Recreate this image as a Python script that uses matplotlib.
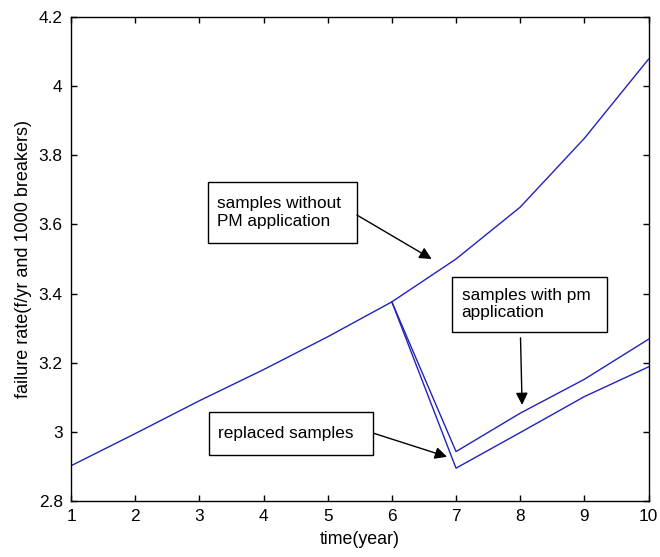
import matplotlib.pyplot as plt
from matplotlib.patches import Rectangle

plt.rcParams['font.family'] = ['Liberation Sans', 'DejaVu Sans']

years = [1, 2, 3, 4, 5, 6, 7, 8, 9, 10]
no_pm = [2.902, 2.995, 3.09, 3.18, 3.275, 3.376, 3.50, 3.65, 3.849, 4.078]

pm_years = [6, 7, 8, 9, 10]
with_pm = [3.376, 2.943, 3.054, 3.152, 3.268]
replaced = [3.376, 2.895, 2.998, 3.102, 3.188]

fig = plt.figure(figsize=(6.6, 5.57), dpi=100)
ax = fig.add_axes([0.1076, 0.1005, 0.875, 0.869])

line_c = '#2222bb'
ax.plot(years, no_pm, color=line_c, lw=1)
ax.plot(pm_years, with_pm, color=line_c, lw=1)
ax.plot(pm_years, replaced, color=line_c, lw=1)

ax.set_xlim(1, 10)
ax.set_ylim(2.8, 4.2)
ax.set_xticks(range(1, 11))
ax.set_yticks([2.8, 3.0, 3.2, 3.4, 3.6, 3.8, 4.0, 4.2])
ax.set_yticklabels(['2.8', '3', '3.2', '3.4', '3.6', '3.8', '4', '4.2'])
ax.tick_params(direction='in', top=True, right=True, labelsize=12.4,
               length=4.3, width=1, pad=6)
for s in ax.spines.values():
    s.set_linewidth(1)

ax.set_xlabel('time(year)', fontsize=12.8, labelpad=5)
ax.set_ylabel('failure rate(f/yr and 1000 breakers)', fontsize=13, labelpad=5)

# annotation boxes (x0, y0, x1, y1 in data coords) and arrows
boxes = [
    (3.133, 3.545, 5.457, 3.724, 'samples without\nPM application'),
    (6.944, 3.290, 9.346, 3.449, 'samples with pm\napplication'),
    (3.153, 2.933, 5.700, 3.057, 'replaced samples'),
]
for x0, y0, x1, y1, txt in boxes:
    ax.add_patch(Rectangle((x0, y0), x1 - x0, y1 - y0, fc='white',
                           ec='black', lw=1, zorder=3))
    ax.text(x0 + 0.145, (y0 + y1) / 2, txt, fontsize=12.4, va='center',
            ha='left', zorder=4, linespacing=1.2)

arrows = [
    ((5.457, 3.627), (6.62, 3.50)),
    ((8.005, 3.272), (8.03, 3.078)),
    ((5.716, 2.996), (6.86, 2.928)),
]
for start, end in arrows:
    ax.annotate('', xy=end, xytext=start,
                arrowprops=dict(arrowstyle='-|>', color='black', lw=1,
                                mutation_scale=18, shrinkA=0, shrinkB=0),
                zorder=5)

fig.savefig('out.png', dpi=100)
